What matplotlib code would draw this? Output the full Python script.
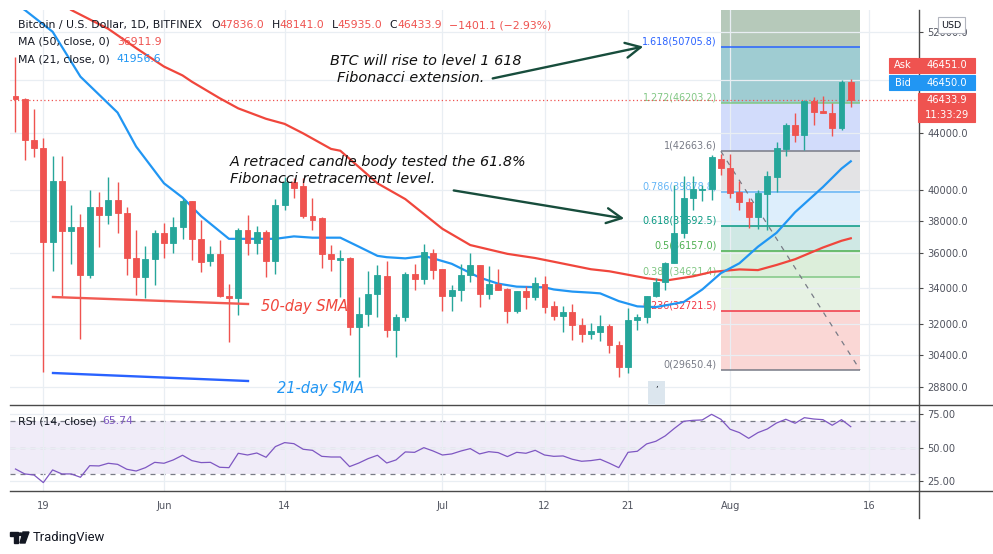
import numpy as np
import pandas as pd
import matplotlib
matplotlib.use("Agg")
import matplotlib.pyplot as plt
import matplotlib.dates as mdates
from matplotlib.lines import Line2D
from matplotlib.patches import Rectangle, FancyArrowPatch, Polygon, Circle
from matplotlib.ticker import FixedLocator, NullLocator

W, H = 993, 554

# ---- data (BTC/USD 1D, Bitfinex) ----
dates = pd.date_range("2021-05-16", "2021-08-14", freq="D")
opens = [46740, 46510, 43470, 42870, 36700, 40600, 37380, 37610, 34720, 38910,
         38370, 39340, 38520, 35700, 34590, 35650, 37250, 36640, 37590, 39250,
         36850, 35550, 35950, 33560, 33400, 37400, 36640, 37330, 35560, 39010,
         40560, 40300, 38300, 38160, 35950, 35600, 35700, 31850, 32560, 33620,
         34670, 31700, 32360, 34780, 34510, 36050, 35080, 33550, 33880, 34720,
         35300, 33620, 34230, 33940, 32690, 33830, 33500, 34230, 32960, 32450,
         32630, 31980, 31490, 31600, 31910, 30920, 29810, 32220, 32360, 33560,
         34340, 35400, 37240, 39500, 40000, 40050, 42140, 41470, 39870, 39190,
         38220, 39720, 40890, 42820, 44570, 43830, 46370, 45600, 45500, 44370,
         47836.0]
highs = [49880, 46600, 45750, 43640, 42350, 42350, 39040, 38430, 40000, 39870,
         40890, 40540, 38900, 37430, 36440, 37450, 37890, 38230, 39420, 39300,
         38050, 36450, 36810, 34190, 37530, 38370, 37690, 37400, 39380, 40890,
         40800, 40800, 39500, 38250, 36480, 36230, 35800, 33450, 34930, 35330,
         35540, 32550, 34880, 35380, 36590, 36280, 35100, 34150, 35350, 36050,
         35300, 35240, 35100, 33980, 33830, 34100, 34610, 34650, 33240, 32960,
         33100, 32320, 32070, 32490, 32020, 31140, 32860, 32550, 33560, 34540,
         35510, 40330, 40940, 40940, 40330, 42400, 42470, 42470, 40580, 39500,
         40000, 41290, 43360, 44720, 45460, 46460, 46710, 46760, 46260, 48050,
         48141.0]
lows = [44020, 42050, 42250, 29560, 34980, 33550, 35370, 31220, 34530, 36400,
        37800, 37220, 34720, 33590, 33400, 34150, 35700, 36000, 36850, 35600,
        34890, 35250, 33450, 31080, 32490, 35900, 35950, 34630, 34780, 38680,
        39450, 38150, 37400, 35110, 34930, 33480, 31450, 29290, 31920, 32360,
        31310, 30280, 32190, 33880, 34200, 34480, 32700, 32700, 33270, 34340,
        32920, 33370, 33880, 32070, 32590, 32790, 33310, 32610, 32220, 31560,
        31170, 31050, 31210, 31140, 30510, 29320, 29520, 31680, 32070, 33480,
        33880, 35400, 36950, 38690, 39280, 39340, 41040, 39450, 38690, 37580,
        37470, 37430, 39890, 42330, 43310, 42760, 44570, 45460, 43760, 44200,
        45935.0]
closes = [46510, 43470, 42870, 36700, 40600, 37380, 37610, 34720, 38910, 38370,
          39340, 38520, 35700, 34590, 35650, 37250, 36640, 37590, 39250, 36850,
          35500, 35950, 33550, 33400, 37400, 36640, 37330, 35560, 39010, 40560,
          40120, 38300, 38050, 35950, 35670, 35700, 31850, 32560, 33620, 34700,
          31700, 32360, 34780, 34510, 36070, 35040, 33550, 33880, 34720, 35300,
          33620, 34230, 33880, 32690, 33830, 33500, 34260, 32920, 32450, 32650,
          31950, 31490, 31620, 31910, 30920, 29810, 32220, 32360, 33560, 34340,
          35400, 37240, 39500, 40070, 40070, 42290, 41470, 39820, 39190, 38220,
          39780, 40940, 42870, 44570, 43830, 46370, 45570, 45500, 44370, 47836,
          46433.9]

# moving averages, read at points along each line (day offset from May 16)
ma21_day = [0, 1, 4, 7, 11, 13, 16, 18, 20, 23, 25, 28, 30, 32, 35, 37, 39, 40,
            42, 44, 45, 47, 50, 52, 54, 57, 58, 60, 62, 63, 65, 67, 69, 72, 74,
            76, 78, 80, 82, 84, 87, 89, 90]
ma21 = [54500, 53970, 52050, 48300, 45500, 43000, 40450, 39500, 38300, 36880,
        36880, 36880, 37030, 36950, 36950, 36400, 35850, 35770, 35700, 35840,
        35700, 35380, 34580, 34230, 34060, 34020, 33900, 33780, 33720, 33680,
        33250, 32960, 32920, 33200, 33900, 34830, 35410, 36400, 37250, 38550,
        40200, 41450, 41956.6]
ma50_day = [5, 6, 10, 13, 16, 18, 19, 22, 24, 27, 29, 31, 34, 35, 39, 42, 46,
            49, 53, 56, 58, 62, 64, 68, 70, 73, 75, 78, 80, 82, 84, 87, 89, 90]
ma50 = [54600, 53970, 52300, 50650, 49120, 48400, 47900, 46600, 45820, 45030,
        44650, 43950, 42830, 42700, 40450, 39400, 37500, 36500, 35970, 35720,
        35500, 35060, 34940, 34540, 34400, 34650, 34900, 35050, 35010, 35310,
        35650, 36350, 36760, 36911.9]

rsi = [34, 30.3, 29.5, 23.8, 33.3, 30.3, 30.3, 27.8, 36.5, 36.3, 38.3, 37.5,
       33.8, 32.5, 35, 39, 38.3, 40.8, 44.3, 40.3, 38.8, 39, 35.3, 35, 45.8,
       44.5, 46, 42.8, 50.8, 53.8, 53, 48.8, 48, 43.5, 43, 43, 35.8, 38.5,
       41.8, 44.3, 38.5, 40.8, 46.8, 46.5, 50, 47.5, 44.5, 45.3, 47.5, 49.3,
       45.3, 47, 46.3, 43.3, 46.5, 45.8, 48, 44.5, 43.5, 43.8, 41.3, 39.8,
       40.3, 41.3, 38.3, 35, 46.5, 47.3, 52.8, 54.8, 58.8, 64.5, 69.8, 70.5,
       70.8, 75, 71.3, 63.8, 61.3, 57, 61.3, 64, 68.5, 71.3, 68.3, 72.5, 71.5,
       71, 66.8, 71, 65.74]

fib_names = ["0", "0.236", "0.382", "0.5", "0.618", "0.786", "1", "1.272", "1.618"]
fib_prices = [29650.4, 32721.5, 34621.4, 36157.0, 37692.5, 39878.8, 42663.6,
              46203.2, 50705.8]
fib_start, fib_end = "2021-07-31", "2021-08-15"

price_ticks = [28800, 30400, 32000, 34000, 36000, 38000, 40000, 44000, 48000, 52000]
rsi_ticks = [25, 50, 75]
date_ticks = ["2021-05-19", "2021-06-01", "2021-06-14", "2021-07-01",
              "2021-07-12", "2021-07-21", "2021-08-01", "2021-08-16"]
date_labels = ["19", "Jun", "14", "Jul", "12", "21", "Aug", "16"]

# ---- styling ----
UP, DOWN = "#26A69A", "#EF5350"
TXT = "#131722"
AXC = "#50535E"
GRID = "#E9EEF3"
fib_line_colors = ["#787B86", "#F23645", "#81C784", "#4CAF50", "#089981",
                   "#64B5F6", "#787B86", "#81C784", "#2962FF"]
fib_fill_colors = ["#FAD7D5", "#E6F2E3", "#DCEEDA", "#CFE8E4", "#DDEEFC",
                   "#E3E3E5", "#D2DCFB", "#9FCCD2", "#B6C9BA"]

plt.rcParams["font.family"] = ["DejaVu Sans"]
UI = 7.1   # price/time scale font size
LEG = 7.8  # legend rows font size


def fx(x):
    return x / W


def fy(y):
    return 1 - y / H


fig = plt.figure(figsize=(W / 100, H / 100), dpi=100)
ax = fig.add_axes([fx(10), fy(405), fx(919) - fx(10), fy(10) - fy(405)])
rx = fig.add_axes([fx(10), fy(491), fx(919) - fx(10), fy(405) - fy(491)], sharex=ax)

xd = mdates.date2num(dates)
x0 = xd[0]
o = np.array(opens)
c = np.array(closes)
up = c >= o
cols = np.where(up, UP, DOWN)

ax.set_yscale("log")
ax.set_ylim(27972, 53966)
ax.set_xlim(x0 - 0.59, x0 + 97.35)

# fibonacci retracement tool
fs = mdates.date2num(pd.Timestamp(fib_start))
fe = mdates.date2num(pd.Timestamp(fib_end))
bounds = fib_prices + [ax.get_ylim()[1]]
for i in range(len(fib_prices)):
    ax.fill_between([fs, fe], bounds[i], bounds[i + 1], color=fib_fill_colors[i],
                    lw=0, zorder=1)
for name, p, col in zip(fib_names, fib_prices, fib_line_colors):
    ax.hlines(p, fs, fe, color=col, lw=1.1, zorder=1.6)
    ax.text(fs - 0.45, p * 1.0012, f"{name}({p:.1f})", color=col, fontsize=6.9,
            ha="right", va="bottom", zorder=1.7)
ax.plot([fs, fe], [fib_prices[6], fib_prices[0]], color="#787B86", lw=0.9,
        ls=(0, (4, 5)), zorder=1.7)

# moving averages
ax.plot(x0 + np.array(ma50_day), ma50, color="#F0463C", lw=1.6, zorder=3)
ax.plot(x0 + np.array(ma21_day), ma21, color="#2196F3", lw=1.6, zorder=3)

# candles
ax.vlines(xd, lows, highs, color=cols, lw=1.0, zorder=4)
ax.bar(xd, np.abs(c - o), bottom=np.minimum(o, c), width=0.64, color=cols,
       edgecolor=cols, lw=0.6, zorder=5)

# last price line
ax.axhline(closes[-1], color=DOWN, lw=0.9, ls=(0, (1, 2)), zorder=2)

# axes styling
ax.set_axisbelow("line")
for s in ["top", "left", "bottom", "right"]:
    ax.spines[s].set_visible(False)
    rx.spines[s].set_visible(False)
ax.yaxis.tick_right()
ax.yaxis.set_major_locator(FixedLocator(price_ticks))
ax.yaxis.set_minor_locator(NullLocator())
ax.set_yticklabels([f"{t:.1f}" for t in price_ticks])
ax.tick_params(axis="y", length=3, width=0.8, color="#4A4A4A", labelcolor=AXC,
               labelsize=UI, pad=3)
tick_x = mdates.date2num(pd.to_datetime(date_ticks))
ax.set_xticks(tick_x)
ax.tick_params(axis="x", length=0, labelbottom=False)
ax.grid(True, color=GRID, lw=0.9)

# RSI pane
rx.set_ylim(17.5, 82)
rx.fill_between([x0 - 5, x0 + 100], 30, 70, color="#7E57C2", alpha=0.11, lw=0, zorder=0.6)
for lv, a in [(70, 1), (50, 0.6), (30, 1)]:
    rx.axhline(lv, color="#787B86", lw=0.9, ls=(0, (4, 4)), alpha=a, zorder=1)
rx.plot(xd, rsi, color="#7E57C2", lw=0.9, zorder=3)
rx.yaxis.tick_right()
rx.set_yticks(rsi_ticks)
rx.set_yticklabels([f"{t:.2f}" for t in rsi_ticks])
rx.tick_params(axis="y", length=3, width=0.8, color="#4A4A4A", labelcolor=AXC,
               labelsize=UI, pad=3)
rx.set_xticks(tick_x)
rx.set_xticklabels(date_labels)
rx.tick_params(axis="x", length=0, labelcolor=AXC, labelsize=UI, pad=7)
rx.grid(True, color=GRID, lw=0.9)
rx.set_xlim(x0 - 0.59, x0 + 97.35)

# pane borders / price scale line
for (xa, ya, xb, yb) in [(10, 405, 993, 405), (10, 491, 993, 491), (919, 10, 919, 518)]:
    fig.add_artist(Line2D([fx(xa), fx(xb)], [fy(ya), fy(yb)], color="#4A4A4A", lw=1.0))

# ---- legend rows (multi-coloured) ----
renderer = fig.canvas.get_renderer()


def rich(x, y, parts, size=LEG):
    for s, col, gap in parts:
        t = fig.text(fx(x), fy(y), s, color=col, fontsize=size, va="center", ha="left")
        x += t.get_window_extent(renderer=renderer).width + gap


rich(18, 25, [("Bitcoin / U.S. Dollar, 1D, BITFINEX", TXT, 9),
              ("O", TXT, 0), ("47836.0", DOWN, 7), ("H", TXT, 0), ("48141.0", DOWN, 7),
              ("L", TXT, 0), ("45935.0", DOWN, 7), ("C", TXT, 0), ("46433.9", DOWN, 7),
              ("\u22121401.1 (\u22122.93%)", DOWN, 0)])
rich(18, 42, [("MA (50, close, 0)", TXT, 7), ("36911.9", DOWN, 0)])
rich(18, 59, [("MA (21, close, 0)", TXT, 7), ("41956.6", "#2196F3", 0)])
rich(18, 421, [("RSI (14, close)", TXT, 6), ("65.74", "#7E57C2", 0)])

# ---- price scale badges ----


def badge(x0p, y0p, x1p, y1p, color, lines, tcol="white", edge=None, size=UI):
    fig.add_artist(Rectangle((fx(x0p), fy(y1p)), fx(x1p) - fx(x0p), fy(y0p) - fy(y1p),
                             transform=fig.transFigure, facecolor=color,
                             edgecolor=edge if edge else color, lw=0.8, zorder=5))
    n = len(lines)
    for i, s in enumerate(lines):
        yy = y0p + (y1p - y0p) * (i + 0.5) / n
        fig.text(fx((x0p + x1p) / 2), fy(yy), s, color=tcol, fontsize=size,
                 ha="center", va="center", zorder=6)


badge(938, 17, 965, 33, "white", ["USD"], tcol=TXT, edge="#B2B5BE", size=6.8)
badge(889, 58, 917, 73, DOWN, ["Ask"])
badge(918, 58, 975, 73, DOWN, ["46451.0"])
badge(889, 75, 917, 90, "#2196F3", ["Bid"])
badge(918, 75, 975, 90, "#2196F3", ["46450.0"])
badge(918, 93, 975, 122, DOWN, ["46433.9", "11:33:29"])

# small event marker on the time scale
fig.add_artist(Rectangle((fx(648), fy(405)), fx(665) - fx(648), fy(381) - fy(405),
                         transform=fig.transFigure, facecolor="#DCE6EE", lw=0, zorder=2))
fig.text(fx(656.5), fy(389), "\u02bc", color=TXT, fontsize=6, ha="center", va="center")

# ---- hand-drawn annotations ----
ann = dict(fontsize=10.4, style="italic", family="DejaVu Sans", color="#111111",
           va="center", ha="left")
fig.text(fx(330), fy(61), "BTC will rise to level 1 618", **ann)
fig.text(fx(337), fy(78), "Fibonacci extension.", **ann)
fig.text(fx(230), fy(162), "A retraced candle body tested the 61.8%", **ann)
fig.text(fx(230), fy(179), "Fibonacci retracement level.", **ann)
for (xa, ya, xb, yb) in [(490, 79, 646, 46), (451, 190, 627, 219)]:
    fig.add_artist(FancyArrowPatch((fx(xa), fy(ya)), (fx(xb), fy(yb)),
                                   transform=fig.transFigure, color="#174D3C", lw=1.7,
                                   arrowstyle="->,head_length=0.9,head_width=0.45",
                                   mutation_scale=12))

fig.add_artist(Line2D([fx(53), fx(248)], [fy(297), fy(304)], color="#F25A52", lw=1.7))
fig.add_artist(Line2D([fx(53), fx(248)], [fy(373), fy(381)], color="#2962FF", lw=1.7))
fig.text(fx(261), fy(306), "50-day SMA", fontsize=10.5, style="italic",
         family="DejaVu Sans", color="#F0463C", va="center")
fig.text(fx(277), fy(389), "21-day SMA", fontsize=10.5, style="italic",
         family="DejaVu Sans", color="#2196F3", va="center")

# ---- TradingView logo ----
fig.add_artist(Polygon([(fx(10), fy(532)), (fx(18), fy(532)), (fx(18), fy(543)),
                        (fx(14), fy(543)), (fx(14), fy(536)), (fx(10), fy(536))],
                       closed=True, transform=fig.transFigure, color=TXT))
fig.add_artist(Circle((fx(20.5), fy(534.2)), 2.2 / W, transform=fig.transFigure, color=TXT))
fig.add_artist(Polygon([(fx(23), fy(532)), (fx(29), fy(532)), (fx(25), fy(543)),
                        (fx(20), fy(543))], closed=True, transform=fig.transFigure, color=TXT))
fig.text(fx(33), fy(537.5), "TradingView", fontsize=9.4, family="Roboto", color=TXT,
         va="center")

fig.savefig("out.png", dpi=100, facecolor="white")
